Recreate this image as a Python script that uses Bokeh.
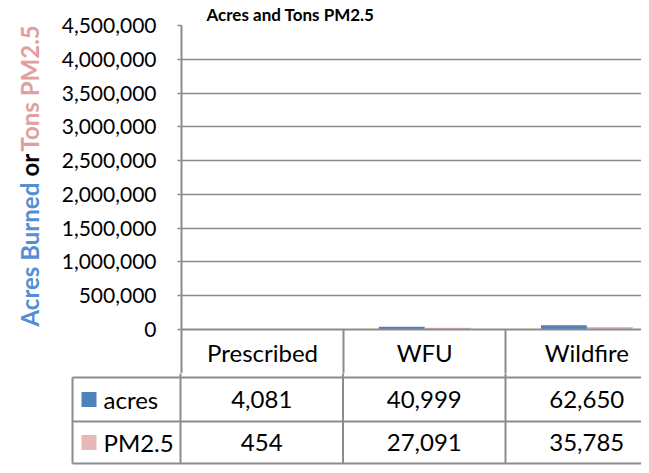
import math
from bokeh.plotting import figure
from bokeh.models import Range1d, FixedTicker, NumeralTickFormatter, ColumnDataSource
from bokeh.transform import dodge
from bokeh.layouts import column, row
from bokeh.embed import file_html
from bokeh.resources import INLINE
from bokeh.core.properties import value

# ---------------- data ----------------
categories = ["Prescribed", "WFU", "Wildfire"]
acres = [4081, 40999, 62650]
pm25 = [454, 27091, 35785]
series_names = ["acres", "PM2.5"]
series_colors = ["#4f81bd", "#e6b9b8"]
y_ticks = [0, 500000, 1000000, 1500000, 2000000, 2500000, 3000000, 3500000, 4000000, 4500000]
title_text = "Acres and Tons PM2.5"
ylabel_parts = ["Acres Burned", "or", "Tons PM2.5"]
ylabel_colors = ["#558ed5", "#000000", "#e0a09e"]

# ---------------- layout constants (pixels) ----------------
FONT = "Lato"
GRID = "#8c8c8c"
W, H = 641, 465
LW = 58                    # width of the y-title strip
FL, FT, FB = 180, 24, 329  # chart frame left / top / bottom
HEAD_B = 377               # bottom of the table header row
GAP = 44                   # strip below the chart frame (category header row)
LABEL_GAP = 8              # header label distance below the zero line
CAT_PX = 162.5
TAB_L = 70                 # table frame left
TOP = FB + GAP             # canvas y where the table figure starts
ROW_EDGES = [HEAD_B - TOP, 421 - TOP, 463 - TOP]   # px below the table figure top
X_END = (W - FL) / CAT_PX
common = dict(output_backend="svg", toolbar_location=None, frame_align=False)

xc = [i + 0.5 for i in range(len(categories))]
src = ColumnDataSource(dict(x=xc, acres=acres, pm=pm25))

# ---------------- y-title strip ----------------
a = figure(width=LW, height=TOP, x_range=Range1d(0, LW), y_range=Range1d(TOP, 0),
           x_axis_location=None, y_axis_location=None,
           min_border_left=0, min_border_right=0, min_border_top=0, min_border_bottom=0, **common)
a.outline_line_color = None
a.grid.visible = False
starts = [326, 176, 151]
a.text(x=[29] * 3, y=starts, text=ylabel_parts, angle=math.pi / 2, text_align="left",
       text_baseline="middle", text_font=value(FONT), text_font_style="bold",
       text_font_size="24px", text_color=ylabel_colors)

# ---------------- chart ----------------
p = figure(width=W - LW, height=TOP, x_range=Range1d(0, X_END), y_range=Range1d(0, y_ticks[-1]),
           min_border_left=FL - LW, min_border_right=0, min_border_top=FT, min_border_bottom=GAP,
           **common)
p.outline_line_color = None
p.xgrid.visible = False
p.ygrid.grid_line_color = GRID
p.ygrid.grid_line_width = 1.6
p.yaxis.ticker = FixedTicker(ticks=y_ticks)
p.yaxis.formatter = NumeralTickFormatter(format="0,0")
p.yaxis.major_label_text_font = FONT
p.yaxis.major_label_text_font_size = "21px"
p.yaxis.major_label_text_color = "black"
p.yaxis.major_label_standoff = 21
p.yaxis.major_tick_out = 4
p.yaxis.major_tick_in = 0
p.yaxis.major_tick_line_color = GRID
p.yaxis.major_tick_line_width = 1.6
p.yaxis.minor_tick_line_color = None
p.yaxis.axis_line_color = GRID
p.yaxis.axis_line_width = 2

# x axis = header row of the data table: labels are the categories,
# minor ticks are the column dividers
p.xaxis.ticker = FixedTicker(ticks=xc, minor_ticks=list(range(len(categories) + 1)))
p.xaxis.major_label_overrides = {x: c for x, c in zip(xc, categories)}
p.xaxis.major_label_text_font = FONT
p.xaxis.major_label_text_font_size = "24px"
p.xaxis.major_label_text_color = "black"
p.xaxis.major_tick_out = 0
p.xaxis.major_tick_in = 0
p.xaxis.major_tick_line_color = None
p.xaxis.minor_tick_out = HEAD_B - FB
p.xaxis.minor_tick_in = 0
p.xaxis.minor_tick_line_color = GRID
p.xaxis.minor_tick_line_width = 2
p.xaxis.major_label_standoff = LABEL_GAP - (HEAD_B - FB)
p.xaxis.axis_line_color = GRID
p.xaxis.axis_line_width = 2

p.title.text = title_text
p.title.align = "left"
p.title.offset = 25
p.title.standoff = 2
p.title.text_font = FONT
p.title.text_font_style = "bold"
p.title.text_font_size = "17px"
p.title.text_color = "black"

bw = 46 / CAT_PX
p.vbar(x=dodge("x", -bw / 2), top="acres", width=bw, source=src,
       fill_color=series_colors[0], line_color=None)
p.vbar(x=dodge("x", bw / 2), top="pm", width=bw, source=src,
       fill_color=series_colors[1], line_color=None)

# ---------------- data table body ----------------
TH = H - TOP
t = figure(width=W, height=TH, x_range=Range1d(-(FL - TAB_L) / CAT_PX, X_END),
           y_range=Range1d(TH, 0), x_axis_location=None, y_axis_location=None,
           min_border_left=TAB_L, min_border_right=0, min_border_top=0, min_border_bottom=0,
           **common)
t.outline_line_color = None
t.grid.visible = False

LEFT_COL = -(FL - 72) / CAT_PX
x0 = [LEFT_COL, LEFT_COL, LEFT_COL, LEFT_COL, 0, 1, 2]
y0 = [ROW_EDGES[0], ROW_EDGES[1], ROW_EDGES[2], ROW_EDGES[0], -2, -2, -2]
x1 = [X_END, X_END, X_END, LEFT_COL, 0, 1, 2]
y1 = [ROW_EDGES[0], ROW_EDGES[1], ROW_EDGES[2]] + [ROW_EDGES[2]] * 4
t.segment(x0=x0, y0=y0, x1=x1, y1=y1, line_color=GRID, line_width=2)

rc = [(ROW_EDGES[i] + ROW_EDGES[i + 1]) / 2 for i in range(2)]
tf = dict(text_font=value(FONT), text_font_size="24px", text_color="black",
          text_baseline="middle")
t.text(x=xc, y=[rc[0]] * 3, text=[f"{v:,}" for v in acres], text_align="center", **tf)
t.text(x=xc, y=[rc[1]] * 3, text=[f"{v:,}" for v in pm25], text_align="center", **tf)

sq_x = (88.5 - FL) / CAT_PX
lb_x = (103 - FL) / CAT_PX
t.scatter(x=[sq_x, sq_x], y=rc, marker="square", size=15,
          fill_color=series_colors, line_color=None)
t.text(x=[lb_x, lb_x], y=rc, text=series_names, text_align="left", **tf)

layout = column(row(a, p, spacing=0), t, spacing=0)
open("out.html", "w").write(file_html(layout, INLINE))
